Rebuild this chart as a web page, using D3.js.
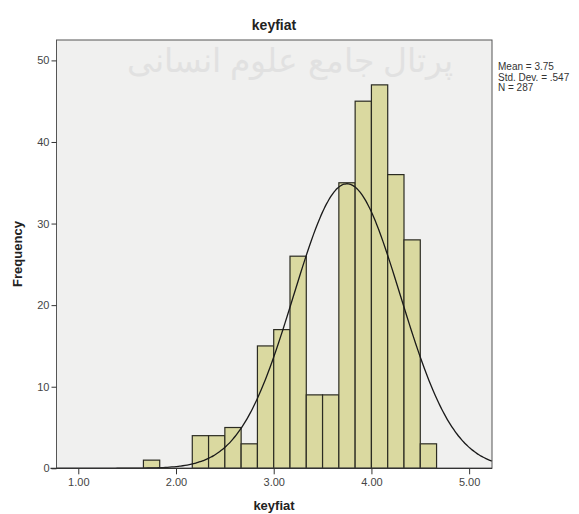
<!DOCTYPE html>
<html>
<head>
<meta charset="utf-8">
<script src="https://cdn.jsdelivr.net/npm/d3@7"></script>
<style>
  body { margin: 0; background: #fff; }
  svg text { font-family: "Liberation Sans", Arial, sans-serif; }
</style>
</head>
<body>
<div id="chart"></div>
<script>
// histogram bins (lower edge, upper edge) and counts
var binLow    = [10/6, 13/6, 14/6, 15/6, 16/6, 17/6, 18/6, 19/6, 20/6, 21/6, 22/6, 23/6, 24/6, 25/6, 26/6, 27/6]
var binHigh   = [11/6, 14/6, 15/6, 16/6, 17/6, 18/6, 19/6, 20/6, 21/6, 22/6, 23/6, 24/6, 25/6, 26/6, 27/6, 28/6]
var counts    = [1, 4, 4, 5, 3, 15, 17, 26, 9, 9, 35, 45, 47, 36, 28, 3]
var xTicks    = [1, 2, 3, 4, 5]
var yTicks    = [0, 10, 20, 30, 40, 50]
var statLines = ["Mean = 3.75", "Std. Dev. = .547", "N = 287"]
var mean = 3.75, sd = 0.547, n = 287, binW = 1/6

var w = 579, h = 514
var pLeft = 56.5, pRight = 492, pTop = 40, pBottom = 468.3

var svg = d3.select("#chart").append("svg")
    .attr("width", w)
    .attr("height", h)

var x = d3.scaleLinear().domain([0.777, 5.234]).range([pLeft, pRight])
var y = d3.scaleLinear().domain([0, 52.5]).range([pBottom, pTop])

// plot area
svg.append("rect")
    .attr("x", pLeft).attr("y", pTop)
    .attr("width", pRight - pLeft).attr("height", pBottom - pTop)
    .attr("fill", "#f0f0ef")

// faint watermark
svg.append("text")
    .attr("x", 290).attr("y", 72)
    .attr("text-anchor", "middle")
    .attr("font-family", "DejaVu Sans")
    .attr("font-size", 33)
    .attr("fill", "#d4d4d4")
    .attr("opacity", 0.5)
    .text("پرتال جامع علوم انسانی")

// bars
svg.selectAll(".bar")
    .data(counts)
    .enter().append("rect")
    .attr("class", "bar")
    .attr("x", function(d, i){ return x(binLow[i]) })
    .attr("y", function(d){ return y(d) })
    .attr("width", function(d, i){ return x(binHigh[i]) - x(binLow[i]) })
    .attr("height", function(d){ return y(0) - y(d) })
    .attr("fill", "#dad9a0")
    .attr("stroke", "#2b2b22")
    .attr("stroke-width", 1.2)

// normal curve from the stated mean / sd / N
var curvePts = d3.range(0, 201).map(function(k){
    var v = x.domain()[0] + (x.domain()[1] - x.domain()[0]) * k / 200
    var z = (v - mean) / sd
    return [v, n * binW * Math.exp(-0.5 * z * z) / (sd * Math.sqrt(2 * Math.PI))]
})
svg.append("path")
    .datum(curvePts)
    .attr("d", d3.line().x(function(d){ return x(d[0]) }).y(function(d){ return y(d[1]) }).curve(d3.curveBasis))
    .attr("fill", "none")
    .attr("stroke", "#1a1a1a")
    .attr("stroke-width", 1.3)

// frame
svg.append("rect")
    .attr("x", pLeft).attr("y", pTop)
    .attr("width", pRight - pLeft).attr("height", pBottom - pTop)
    .attr("fill", "none")
    .attr("stroke", "#555")
    .attr("stroke-width", 1)

// axes
var xAxis = svg.append("g")
    .attr("transform", "translate(0," + pBottom + ")")
    .call(d3.axisBottom(x).tickValues(xTicks).tickFormat(d3.format(".2f")).tickSize(6).tickPadding(4))
var yAxis = svg.append("g")
    .attr("transform", "translate(" + pLeft + ",0)")
    .call(d3.axisLeft(y).tickValues(yTicks).tickSize(5).tickPadding(2))

xAxis.select(".domain").remove()
yAxis.select(".domain").remove()
svg.append("line")
    .attr("x1", pLeft - 6).attr("x2", pRight)
    .attr("y1", pBottom).attr("y2", pBottom)
    .attr("stroke", "#333").attr("stroke-width", 1.2)

svg.selectAll(".tick line").attr("stroke", "#333")
svg.selectAll(".tick text")
    .attr("font-size", 11)
    .attr("fill", "#444")
    .style("font-family", "Liberation Sans, Arial, sans-serif")

// titles
svg.append("text")
    .attr("x", 274).attr("y", 30)
    .attr("text-anchor", "middle")
    .attr("font-size", 14).attr("font-weight", "bold")
    .attr("fill", "#222")
    .text("keyfiat")

svg.append("text")
    .attr("x", 274).attr("y", 510)
    .attr("text-anchor", "middle")
    .attr("font-size", 13).attr("font-weight", "bold")
    .attr("fill", "#222")
    .text("keyfiat")

svg.append("text")
    .attr("transform", "translate(22,254) rotate(-90)")
    .attr("text-anchor", "middle")
    .attr("font-size", 13).attr("font-weight", "bold")
    .attr("fill", "#222")
    .text("Frequency")

// stats box
svg.selectAll(".stat")
    .data(statLines)
    .enter().append("text")
    .attr("class", "stat")
    .attr("x", 498)
    .attr("y", function(d, i){ return 70 + i * 10.5 })
    .attr("font-size", 10)
    .attr("fill", "#333")
    .text(function(d){ return d })
</script>
</body>
</html>
